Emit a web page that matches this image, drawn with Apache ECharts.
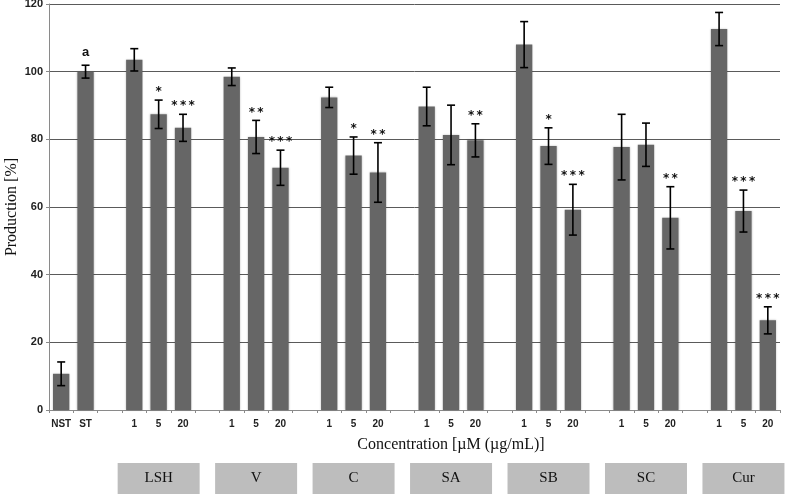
<!DOCTYPE html>
<html><head><meta charset="utf-8">
<script src="https://cdn.jsdelivr.net/npm/echarts@6/dist/echarts.min.js"></script>
<style>html,body{margin:0;padding:0;background:#fff}#c{width:787px;height:495px}</style>
</head><body><div id="c"></div>
<script>
const groups = ['LSH', 'V', 'C', 'SA', 'SB', 'SC', 'Cur'];
const doses = ['1', '5', '20'];
const controlLabels = ['NST', 'ST'];
const controlValues = [10.7, 100];
const controlErrors = [3.5, 1.9];
const controlMarks = ['', 'a'];
const groupValues = [
  [103.5, 87.4, 83.4],
  [98.5, 80.7, 71.6],
  [92.4, 75.2, 70.2],
  [89.7, 81.3, 79.7],
  [108.0, 78.0, 59.2],
  [77.7, 78.4, 56.8],
  [112.6, 58.8, 26.5]
];
const groupErrors = [
  [3.3, 4.2, 4.0],
  [2.6, 4.9, 5.2],
  [3.0, 5.5, 8.8],
  [5.7, 8.8, 4.9],
  [6.8, 5.4, 7.5],
  [9.7, 6.4, 9.2],
  [4.9, 6.2, 4.0]
];
const groupMarks = [
  ['', '*', '***'],
  ['', '**', '***'],
  ['', '*', '**'],
  ['', '', '**'],
  ['', '*', '***'],
  ['', '', '**'],
  ['', '***', '***']
];
const yMin = 0, yMax = 120, yStep = 20;

// build category axis
const categories = [], values = [], errs = [], marks = [], boxLabels = [];
controlLabels.forEach((l, i) => {
  categories.push(l); values.push(controlValues[i]); errs.push(controlErrors[i]); marks.push(controlMarks[i]); boxLabels.push('');
});
groups.forEach((g, gi) => {
  categories.push(''); values.push('-'); errs.push(null); marks.push(''); boxLabels.push('');
  doses.forEach((d, di) => {
    categories.push(d);
    values.push(groupValues[gi][di]);
    errs.push(groupErrors[gi][di]);
    marks.push(groupMarks[gi][di]);
    boxLabels.push(di === 1 ? g : '');
  });
});
const errData = [];
values.forEach((v, i) => {
  if (errs[i] != null) errData.push([i, v - errs[i], v + errs[i], marks[i]]);
});

const chart = echarts.init(document.getElementById('c'));
chart.setOption({
  backgroundColor: '#fff',
  animation: false,
  grid: { left: 49, right: 7, top: 4, bottom: 85, containLabel: false, outerBoundsMode: 'none' },
  xAxis: [{
    type: 'category',
    data: categories,
    axisLine: { lineStyle: { color: '#8a8a8a', width: 1 } },
    axisTick: { show: true, length: 3, lineStyle: { color: '#8a8a8a' } },
    axisLabel: { interval: 0, margin: 9, color: '#222', fontFamily: 'Liberation Sans', fontWeight: 'bold', fontSize: 10 },
    name: 'Concentration [\u00b5M (\u00b5g/mL)]',
    nameLocation: 'middle',
    nameGap: 27,
    nameMoveOverlap: false,
    nameTextStyle: { fontFamily: 'Liberation Serif', fontSize: 16, color: '#111', padding: [0, 0, 0, 73] }
  }, {
    type: 'category',
    data: boxLabels,
    position: 'bottom',
    axisLine: { show: false },
    axisTick: { show: false },
    splitLine: { show: false },
    axisLabel: {
      interval: 0, margin: 53,
      formatter: v => v ? '{b|' + v + '}' : '',
      rich: { b: { backgroundColor: '#bdbdbd', width: 82, height: 31, lineHeight: 31, align: 'center',
        fontFamily: 'Liberation Serif', fontSize: 15, color: '#111' } }
    }
  }],
  yAxis: {
    type: 'value',
    min: yMin, max: yMax, interval: yStep,
    axisLine: { show: true, lineStyle: { color: '#8a8a8a' } },
    axisTick: { show: true, length: 3, lineStyle: { color: '#8a8a8a' } },
    splitLine: { lineStyle: { color: '#5a5a5a', width: 1 } },
    axisLabel: { color: '#222', fontFamily: 'Liberation Sans', fontWeight: 'bold', fontSize: 11, margin: 6 },
    name: 'Production [%]',
    nameLocation: 'middle',
    nameGap: 29,
    nameMoveOverlap: false,
    nameTextStyle: { fontFamily: 'Liberation Serif', fontSize: 16, color: '#111' }
  },
  series: [{
    type: 'bar',
    xAxisIndex: 0,
    data: values,
    barWidth: '67%',
    itemStyle: { color: '#666666', shadowColor: 'rgba(0,0,0,0.25)', shadowBlur: 2 },
    z: 2
  }, {
    type: 'custom',
    xAxisIndex: 0,
    data: errData,
    z: 5,
    renderItem: function (params, api) {
      const x = api.coord([api.value(0), 0])[0];
      const lo = api.coord([api.value(0), api.value(1)])[1];
      const hi = api.coord([api.value(0), api.value(2)])[1];
      const cw = 4;
      const st = { stroke: '#000', lineWidth: 1.6 };
      const mark = errData[params.dataIndex][3];
      const children = [
        { type: 'line', shape: { x1: x, y1: lo, x2: x, y2: hi }, style: st },
        { type: 'line', shape: { x1: x - cw, y1: lo, x2: x + cw, y2: lo }, style: st },
        { type: 'line', shape: { x1: x - cw, y1: hi, x2: x + cw, y2: hi }, style: st }
      ];
      if (mark) {
        const isA = mark === 'a';
        children.push({ type: 'text', style: {
          x: x, y: hi - (isA ? 6 : 2), text: isA ? mark : mark.split('').join('\u2009'),
          align: 'center', verticalAlign: 'bottom',
          font: isA ? 'bold 13px "Liberation Sans"' : 'bold 12px "DejaVu Sans"', fill: '#111'
        } });
      }
      return { type: 'group', children: children };
    }
  }]
});
</script>
</body></html>
